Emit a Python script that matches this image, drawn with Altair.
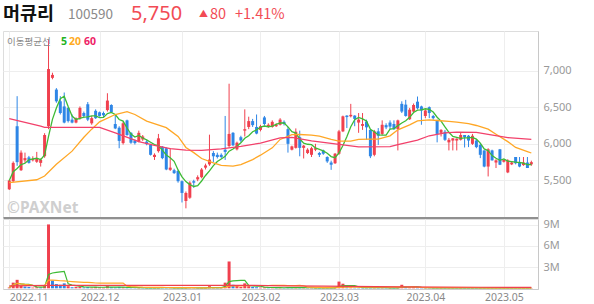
import altair as alt
import pandas as pd

# ---------------- data ----------------
opens = [5380, 5490, 6240, 5640, 5775, 5815, 5775, 5755, 5740, 5830,
         6240, 6900, 6740, 6580, 6510, 6490, 6330, 6290, 6350, 6420,
         6540, 6280, 6450, 6430, 6420, 6460, 6530, 6270, 6220, 6010,
         6320, 6150, 6045, 6030, 6060, 6030, 5985, 5820, 5900, 5960,
         5940, 5645, 5640, 5630, 5490, 5220, 5265, 5490, 5515, 5545,
         5675, 5720, 5875, 5850, 5850, 5920, 5970, 6150, 5925, 6090,
         6180, 6230, 6310, 6230, 6190, 6360, 6230, 6230, 6240, 6260,
         6300, 6200, 5920, 5945, 6090, 5945, 5875, 5850, 5920, 5875,
         5910, 5820, 5745, 5735, 5865, 6170, 6385, 6375, 6385, 6290,
         6245, 6305, 6190, 5850, 6170, 6135, 6255, 6290, 6270, 6200,
         6545, 6535, 6335, 6440, 6575, 6510, 6380, 6500, 6380, 6320,
         6150, 6165, 6020, 6045, 6045, 6055, 6120, 6110, 6000, 6045,
         5985, 5910, 5690, 5910, 5745, 5925, 5755, 5610, 5720, 5820,
         5745, 5710, 5745, 5720]
highs = [5510, 5760, 6650, 5910, 5880, 5835, 5830, 5890, 5800, 6145,
         7420, 6970, 6760, 6650, 6700, 6500, 6400, 6360, 6510, 6440,
         6570, 6380, 6470, 6440, 6440, 6690, 6540, 6400, 6240, 6300,
         6330, 6160, 6060, 6180, 6120, 6050, 6000, 5870, 6135, 5970,
         5950, 5940, 5660, 5640, 5500, 5350, 5490, 5510, 5570, 5670,
         5730, 6125, 5900, 5880, 5870, 6380, 6820, 6160, 6030, 6110,
         6470, 6370, 6340, 6400, 6260, 6380, 6280, 6320, 6280, 6350,
         6320, 6230, 5975, 6210, 6180, 5985, 5940, 5960, 6000, 5890,
         5920, 5830, 5770, 5875, 6190, 6385, 6390, 6545, 6390, 6420,
         6420, 6330, 6190, 6190, 6215, 6320, 6280, 6320, 6320, 6330,
         6580, 6600, 6490, 6550, 6645, 6520, 6470, 6510, 6395, 6330,
         6200, 6190, 6080, 6080, 6075, 6150, 6120, 6120, 6135, 6065,
         6010, 5910, 5940, 5920, 5790, 5930, 5790, 5790, 5760, 5820,
         5820, 5820, 5820, 5770]
lows = [5370, 5480, 5700, 5630, 5740, 5730, 5760, 5740, 5690, 5810,
        6200, 6880, 6560, 6400, 6280, 6290, 6280, 6280, 6330, 6350,
        6310, 6260, 6340, 6370, 6360, 6440, 6420, 6200, 5940, 5990,
        6110, 6000, 5990, 6020, 6040, 5980, 5840, 5780, 5880, 5790,
        5640, 5630, 5590, 5470, 5200, 5120, 5250, 5400, 5490, 5530,
        5650, 5700, 5750, 5800, 5800, 5780, 5945, 5970, 5910, 6020,
        6100, 6200, 6230, 6130, 6170, 6250, 6220, 6220, 6230, 6250,
        6250, 5880, 5910, 5935, 5830, 5800, 5860, 5820, 5900, 5820,
        5850, 5740, 5645, 5725, 5850, 6160, 6215, 6360, 6240, 6150,
        6190, 6055, 5805, 5830, 5985, 6120, 6200, 6200, 6190, 5910,
        6420, 6370, 6325, 6420, 6470, 6260, 6350, 6350, 6330, 6020,
        6100, 6040, 5910, 5910, 5910, 6045, 5950, 5955, 5985, 5940,
        5805, 5680, 5555, 5770, 5670, 5710, 5745, 5600, 5710, 5720,
        5680, 5700, 5670, 5700]
closes = [5500, 5740, 5750, 5880, 5805, 5740, 5790, 5805, 5780, 6120,
          7020, 6940, 6580, 6420, 6290, 6310, 6290, 6350, 6490, 6380,
          6330, 6350, 6350, 6380, 6390, 6590, 6430, 6210, 6040, 6280,
          6120, 6015, 6010, 6150, 6100, 5995, 5850, 5850, 6075, 5805,
          5650, 5675, 5600, 5490, 5330, 5330, 5470, 5470, 5545, 5650,
          5705, 5785, 5830, 5820, 5820, 5890, 6135, 5980, 6015, 6045,
          6200, 6310, 6255, 6140, 6240, 6270, 6260, 6300, 6260, 6330,
          6270, 6000, 5965, 6165, 5945, 5975, 5920, 5940, 5940, 5850,
          5865, 5760, 5715, 5865, 6170, 6375, 6365, 6395, 6340, 6330,
          6270, 6225, 5830, 6170, 6110, 6260, 6225, 6235, 6200, 6320,
          6440, 6380, 6465, 6530, 6485, 6455, 6455, 6420, 6350, 6135,
          6190, 6055, 6055, 6075, 6070, 6120, 6090, 6045, 6110, 5955,
          5850, 5690, 5925, 5775, 5775, 5715, 5780, 5775, 5745, 5735,
          5690, 5745, 5670, 5750]
volumes_m = [0.12, 0.8, 1.2, 0.35, 0.25, 0.2, 0.1, 0.15, 0.12, 0.4,
             9.05, 1.1, 0.6, 0.5, 0.7, 0.3, 0.15, 0.2, 0.25, 0.12,
             0.18, 0.1, 0.2, 0.15, 0.1, 0.3, 0.15, 0.12, 0.2, 0.15,
             0.1, 0.08, 0.06, 0.08, 0.05, 0.06, 0.08, 0.06, 0.1, 0.07,
             0.08, 0.06, 0.05, 0.07, 0.08, 0.1, 0.08, 0.05, 0.04, 0.05,
             0.06, 0.3, 0.08, 0.05, 0.05, 0.8, 3.8, 0.5, 0.35, 0.2,
             0.7, 0.3, 0.2, 0.15, 0.1, 0.12, 0.08, 0.1, 0.06, 0.08,
             0.06, 0.15, 0.06, 0.12, 0.1, 0.06, 0.05, 0.06, 0.05, 0.05,
             0.06, 0.07, 0.08, 0.1, 0.95, 0.65, 0.15, 0.12, 0.08, 0.1,
             0.07, 0.08, 0.12, 0.1, 0.07, 0.08, 0.05, 0.05, 0.06, 0.1,
             0.5, 0.15, 0.12, 0.15, 0.12, 0.06, 0.05, 0.06, 0.05, 0.08,
             0.05, 0.06, 0.05, 0.04, 0.04, 0.05, 0.04, 0.04, 0.05, 0.04,
             0.06, 0.07, 0.08, 0.05, 0.04, 0.06, 0.04, 0.06, 0.04, 0.04,
             0.04, 0.04, 0.05, 0.04]

ma20_idx = [0, 7, 9, 12, 16, 19, 21, 23, 27, 30, 32, 35, 40, 43, 45, 47, 49, 52, 54, 57,
            59, 62, 64, 67, 69, 72, 74, 77, 79, 82, 84, 87, 89, 92, 94, 97, 99, 102, 104,
            107, 109, 112, 114, 117, 119, 122, 124, 127, 129, 132, 133]
ma20_val = [5470, 5510, 5560, 5720, 5900, 6090, 6200, 6300, 6400, 6440, 6400, 6310, 6220,
            6100, 5950, 5880, 5800, 5740, 5705, 5695, 5715, 5785, 5845, 5945, 6060, 6125,
            6127, 6118, 6105, 6060, 6036, 6036, 6060, 6064, 6064, 6109, 6191, 6259, 6314,
            6327, 6318, 6305, 6295, 6275, 6250, 6200, 6130, 6030, 5950, 5895, 5875]
ma60_idx = [0, 8, 9, 23, 27, 33, 37, 41, 45, 49, 54, 59, 64, 69, 72, 77, 82, 89, 97, 99,
            104, 107, 111, 114, 119, 122, 127, 133]
ma60_val = [6345, 6240, 6225, 6225, 6150, 6030, 5980, 5935, 5915, 5910, 5930, 5965, 6010,
            6080, 6088, 6040, 6005, 5958, 5962, 5990, 6050, 6110, 6150, 6160, 6155, 6130,
            6085, 6060]
vma60_idx = [0, 10, 30, 60, 70, 80, 100, 120, 133]
vma60_val = [0.33, 0.4, 0.42, 0.42, 0.35, 0.3, 0.2, 0.15, 0.12]

month_ticks = [0, 23, 44, 64, 84, 106, 126]
month_labels = ["2022.11", "2022.12", "2023.01", "2023.02", "2023.03", "2023.04", "2023.05"]
price_ticks = [5500, 6000, 6500, 7000]
vol_ticks = [3, 6, 9]

# ---------------- styling ----------------
FONT = "Noto Sans, Noto Sans CJK KR"
HFONT = "Noto Sans CJK KR"
RED = "#f0404e"
BLUE = "#2e86e6"
GREEN = "#3dbb35"
ORANGE = "#ffa726"
PINK = "#f2416b"
GRID = "#eeeeee"
W, HP, HV = 535, 186.5, 70

n = len(closes)
df = pd.DataFrame({"i": list(range(n)), "open": opens, "high": highs, "low": lows,
                   "close": closes, "vol": volumes_m})
df["dir"] = ["up" if c >= o else "down" for o, c in zip(opens, closes)]
df["vdir"] = ["up" if (k == 0 or closes[k] >= closes[k - 1]) else "down" for k in range(n)]
ma20_df = pd.DataFrame({"i": ma20_idx, "v": ma20_val})
ma60_df = pd.DataFrame({"i": ma60_idx, "v": ma60_val})
vma60_df = pd.DataFrame({"i": vma60_idx, "v": vma60_val})
one = pd.DataFrame({"k": [0]})

xscale = alt.Scale(domain=[-0.325, 133.425], nice=False, zero=False)
pscale = alt.Scale(domain=[4995, 7539], nice=False, zero=False)
vscale = alt.Scale(domain=[-0.1, 9.82], nice=False, zero=False)
cscale = alt.Scale(domain=["up", "down"], range=[RED, BLUE])

ticks_js = "[" + ",".join(str(t) for t in month_ticks) + "]"
labels_js = "[" + ",".join("'" + s + "'" for s in month_labels) + "]"

x_price_axis = alt.Axis(values=month_ticks, grid=True, gridColor=GRID, labels=False,
                        ticks=False, tickSize=0, domain=True, domainColor="#333333",
                        title=None)
y_price_axis = alt.Axis(orient="right", values=price_ticks, labelExpr="format(datum.value, ',')",
                        grid=True, gridColor=GRID, ticks=False, tickSize=0, domainColor="#c8c8c8",
                        labelColor="#999999", labelFontSize=11, labelPadding=5, title=None)
x_vol_axis = alt.Axis(values=month_ticks, labelExpr=f"{labels_js}[indexof({ticks_js}, datum.value)]",
                      grid=True, gridColor=GRID, ticks=False, tickSize=0,
                      domainColor="#cccccc", labelColor="#888888", labelFontSize=10.5,
                      labelPadding=3, title=None,
                      labelAlign={"condition": {"test": "datum.value < 1", "value": "left"},
                                  "value": "center"})
y_vol_axis = alt.Axis(orient="right", values=vol_ticks, labelExpr="datum.value + 'M'",
                      grid=True, gridColor=GRID, ticks=False, tickSize=0,
                      domainColor="#c8c8c8", labelColor="#999999", labelFontSize=11,
                      labelPadding=5, title=None)


def px(field="i"):
    return alt.X(f"{field}:Q", scale=xscale, axis=x_price_axis)


def py(field):
    return alt.Y(f"{field}:Q", scale=pscale, axis=y_price_axis)


def vx(field="i"):
    return alt.X(f"{field}:Q", scale=xscale, axis=x_vol_axis)


def vy(field):
    return alt.Y(f"{field}:Q", scale=vscale, axis=y_vol_axis)


def label(txt, x, y, size, color, weight="normal", baseline="alphabetic", font=FONT):
    return alt.Chart(one).mark_text(text=txt, align="left", baseline=baseline, fontSize=size,
                                    color=color, fontWeight=weight, font=font).encode(
        x=alt.value(x), y=alt.value(y))


base = alt.Chart(df)
wicks = base.mark_rule(strokeWidth=1).encode(
    x=px(), y=py("low"), y2="high:Q",
    color=alt.Color("dir:N", scale=cscale, legend=None))
bodies = base.mark_bar(width=3, minBandSize=1).encode(
    x=px(), y=py("open"), y2="close:Q",
    color=alt.Color("dir:N", scale=cscale, legend=None))
ma5 = base.transform_window(ma5="mean(close)", frame=[-4, 0], sort=[alt.SortField("i")]).mark_line(
    color=GREEN, strokeWidth=1.3).encode(x=px(), y=py("ma5"))
ma20 = alt.Chart(ma20_df).mark_line(color=ORANGE, strokeWidth=1.3).encode(x=px(), y=py("v"))
ma60 = alt.Chart(ma60_df).mark_line(color=PINK, strokeWidth=1.3).encode(x=px(), y=py("v"))

anchor = alt.Chart(one).mark_rule(strokeOpacity=0).encode(
    x=alt.value(0), x2=alt.value(1), y=alt.value(-30.5), y2=alt.value(-30))

header = [
    label("머큐리", 0, -11.5, 18.5, "#111111", weight="bold", font=HFONT),
    label("100590", 65, -12.5, 13.5, "#8a8a8a", font=HFONT),
    label("5,750", 128, -11, 20, "#f24b55", font="Noto Sans"),
    label("▲", 196, -14.5, 9, "#f24b55", font=HFONT),
    label("80", 207, -12.5, 14.5, "#f24b55", font=HFONT),
    label("+1.41%", 232, -12.5, 14.5, "#f24b55", font=HFONT),
    label("이동평균선", 4, 10.5, 9.5, "#888888", baseline="middle"),
    label("5", 58, 10.5, 10.5, "#22b322", weight="bold", baseline="middle"),
    label("20", 66, 10.5, 10.5, "#ffaa22", weight="bold", baseline="middle"),
    label("60", 81, 10.5, 10.5, "#ee2266", weight="bold", baseline="middle"),
    label("©PAXNet", 4, 181.5, 15.5, "#cfcfcf", weight="bold"),
]

price = alt.layer(wicks, bodies, ma5, ma20, ma60, anchor, *header).properties(width=W, height=HP)

vbase = alt.Chart(df)
vbars = vbase.mark_bar(width=3).encode(
    x=vx(), y=vy("vol"), y2=alt.datum(0),
    color=alt.Color("vdir:N", scale=cscale, legend=None))
vma5 = vbase.transform_window(m="mean(vol)", frame=[-4, 0], sort=[alt.SortField("i")]).mark_line(
    color=GREEN, strokeWidth=1.2).encode(x=vx(), y=vy("m"))
vma20 = vbase.transform_window(m="mean(vol)", frame=[-19, 0], sort=[alt.SortField("i")]).mark_line(
    color=ORANGE, strokeWidth=1.2).encode(x=vx(), y=vy("m"))
vma60 = alt.Chart(vma60_df).mark_line(color=RED, strokeWidth=1.2).encode(x=vx(), y=vy("v"))

volume = alt.layer(vbars, vma5, vma20, vma60).properties(width=W, height=HV)

chart = alt.vconcat(price, volume, spacing=0).properties(
    padding={"left": 2, "top": 0, "right": 0, "bottom": 0}
).configure_view(stroke="#d5d5d5").configure(font=FONT)

chart.save("out.html", embed_options={"renderer": "svg", "actions": False})
